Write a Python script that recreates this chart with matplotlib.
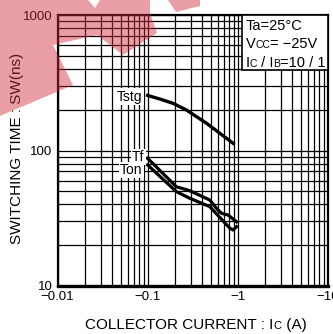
import matplotlib
matplotlib.use("Agg")
import matplotlib.pyplot as plt
from matplotlib.patches import Polygon, Rectangle

plt.rcParams['font.family'] = ['Liberation Sans', 'DejaVu Sans']

# datos (Ic en A, valor absoluto; tiempos en ns)
tstg_ic = [0.1, 0.136, 0.191, 0.269, 0.449, 0.887]
tstg_ns = [255, 240, 223, 199, 159, 113]
tf_ic = [0.1, 0.208, 0.293, 0.489, 0.58, 0.659, 0.78, 0.968]
tf_ns = [87.5, 54, 50.5, 43.1, 37.4, 34.4, 33.4, 29.8]
ton_ic = [0.1, 0.208, 0.293, 0.489, 0.815, 0.887, 0.968]
ton_ns = [78.2, 49.7, 44.4, 38.5, 26.7, 25.9, 27.4]

x_ticks = [0.01, 0.1, 1, 10]
x_labels = ['\u22120.01', '\u22120.1', '\u22121', '\u221210']
y_ticks = [10, 100, 1000]
y_labels = ['10', '100', '1000']

W, H = 333, 334
fig = plt.figure(figsize=(W / 100, H / 100), dpi=100)
ax = fig.add_axes([57.5 / W, (H - 286) / H, 270.5 / W, 271 / H])
ax.set_xscale('log')
ax.set_yscale('log')
ax.set_xlim(0.01, 10)
ax.set_ylim(10, 1000)

ax.grid(True, which='both', color='black', linewidth=0.9)
ax.set_axisbelow(True)
ax.set_xticks(x_ticks)
ax.set_xticklabels(x_labels)
ax.set_yticks(y_ticks)
ax.set_yticklabels(y_labels)
ax.tick_params(which='both', length=0, labelsize=9.5, pad=3.5)
for s in ['left', 'top', 'right']:
    ax.spines[s].set_linewidth(1.6)
ax.spines['bottom'].set_linewidth(2.4)

ax.plot(tstg_ic, tstg_ns, color='black', linewidth=2.4, zorder=3)
ax.plot(tf_ic, tf_ns, color='black', linewidth=2.3, zorder=3)
ax.plot(ton_ic, ton_ns, color='black', linewidth=2.3, zorder=3)

box = dict(facecolor='white', edgecolor='none', pad=0.8)
ax.text(0.088, 250, 'Tstg', ha='right', va='center', fontsize=10, bbox=box, zorder=4)
ax.text(0.092, 89, 'Tf', ha='right', va='center', fontsize=10, bbox=box, zorder=4)
ax.text(0.088, 72, 'Ton', ha='right', va='center', fontsize=10, bbox=box, zorder=4)

# cuadro de condiciones
ax.add_patch(Rectangle((0.682, 0.797), 0.318, 0.203, transform=ax.transAxes,
                       facecolor='white', edgecolor='black', linewidth=1.2, zorder=4))

renderer = fig.canvas.get_renderer()


def rich_text(x, y, pieces, ha='left'):
    '''Escribe texto con partes de distinto tamaño (x, y en píxeles)'''
    widths = []
    for txt, size in pieces:
        t = fig.text(0, 0, txt, fontsize=size)
        widths.append(t.get_window_extent(renderer).width)
        t.remove()
    pos = x - sum(widths) / 2 if ha == 'center' else x
    for (txt, size), w in zip(pieces, widths):
        fig.text(pos / W, 1 - y / H, txt, fontsize=size, va='baseline', zorder=5)
        pos += w


rich_text(245.5, 30, [('Ta=25\u00b0C', 10.5)])
rich_text(245.5, 48.5, [('V', 10.5), ('CC', 7.5), ('= \u221225V', 10.5)])
rich_text(245.5, 67, [('I', 10.5), ('C', 7.5), (' / I', 10.5), ('B', 7.5), ('=10 / 1', 10.5)])

rich_text(196, 329, [('COLLECTOR CURRENT : I', 11), ('C', 8), (' (A)', 11)], ha='center')
fig.text(17 / W, 1 - 148 / H, 'SWITCHING TIME : SW(ns)', rotation=90, fontsize=11,
         ha='center', va='center')

# marca de agua rosada
pink = '#d22a3c'
shapes = [
    [(0, 0), (88, 0), (95, 8), (100, 0), (150, 0), (150, 13), (157, 33), (123, 55),
     (97, 35), (53, 45), (73, 85), (0, 116)],
    [(168, 0), (200, 0), (200, 6), (176, 12)],
]
for pts in shapes:
    fig.patches.append(Polygon([(px / W, 1 - py / H) for px, py in pts], closed=True,
                               transform=fig.transFigure, facecolor=pink,
                               edgecolor='none', alpha=0.45, zorder=10))

fig.savefig('out.png', dpi=100)
